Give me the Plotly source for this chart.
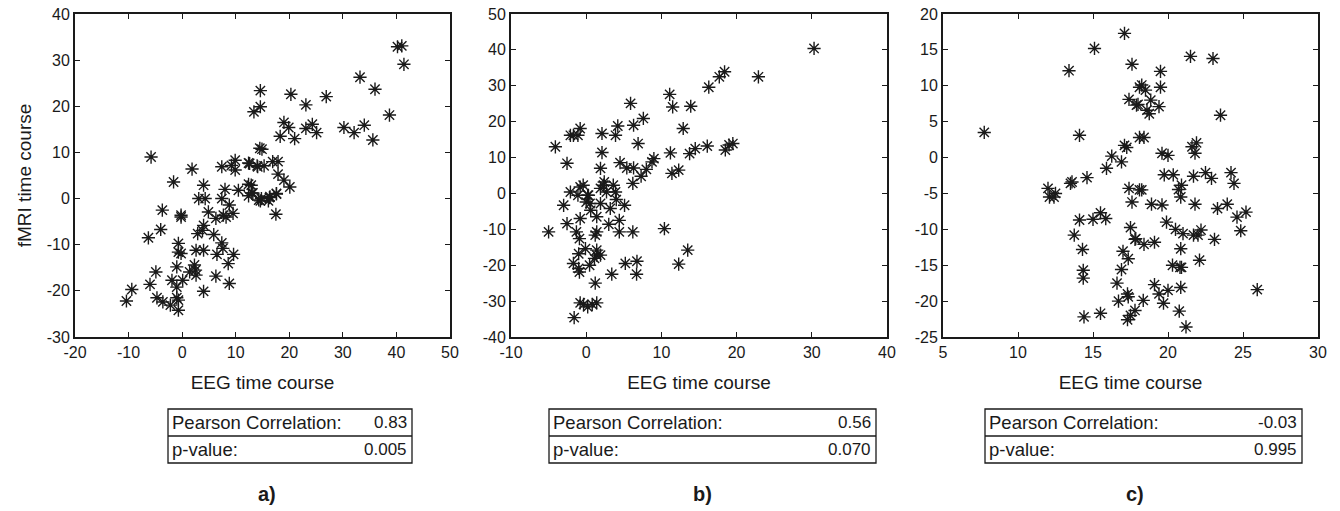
import plotly.graph_objects as go

W, H = 1340, 511

# ---------------- data ----------------
a_x = [-5.8, -1.6, 1.85, 4.0, 7.4, 9.2, 9.9, 9.9, 12.4, 14.1, 8.0, 10.5, 12.4, 13.0, 12.4,
       3.1, 4.3, 7.4, 13.4, 14.6, 14.6, 14.5, 20.3, 23.1, 26.9, 33.2, 36.0, 40.2, 41.0, 41.4,
       38.7, 19.0, 19.9, 18.3, 21.0, 23.1, 24.3, 25.1, 30.2, 32.1, 34.0, 35.6, 14.9, 12.6, 14.0,
       15.3, 16.9, 17.9, 17.9, 19.0, 20.1, 12.9, 13.2, 14.8, 16.3, 17.6, 14.3, -3.7, -0.2, -0.2,
       -4.0, -6.3, 4.9, 7.7, 8.2, 9.5, 8.8, 6.3, 4.0, 3.8, 2.9, 5.9, 7.4, 7.6, 6.5, 9.6, 8.6,
       6.3, 8.8, 4.0, -0.7, -0.7, -0.2, 2.6, 4.0, 2.3, 2.5, 2.6, 1.4, -1.0, -1.9, 0.1, -1.0,
       -4.9, -6.0, -9.4, -10.4, -4.7, -3.6, -2.2, -1.0, -0.7, -0.7, 14.6, 16.1, 16.4, 17.6, 17.5]
a_y = [9.0, 3.6, 6.4, 2.9, 6.9, 7.2, 8.3, 6.2, 7.7, 6.9, 2.0, 1.8, 3.1, 1.2, 0.6,
       0.0, 0.0, 0.0, 18.8, 19.9, 23.4, 10.9, 22.6, 20.3, 22.1, 26.3, 23.7, 32.9, 33.1, 29.1,
       18.1, 16.5, 15.4, 13.5, 13.0, 15.2, 16.1, 14.3, 15.4, 14.3, 15.9, 12.7, 10.7, 7.6, 7.1,
       7.1, 8.0, 8.0, 5.3, 4.0, 2.5, 2.9, 1.2, 0.0, 0.2, 1.1, -0.3, -2.5, -4.0, -3.6,
       -6.7, -8.5, -2.9, -3.6, -4.0, -3.2, -1.4, -4.3, -5.8, -6.9, -7.6, -7.8, -9.6, -10.8, -12.1, -12.1, -14.1,
       -16.8, -18.4, -20.1, -9.7, -11.6, -11.9, -11.2, -11.2, -14.4, -15.5, -16.6, -15.9, -14.8, -17.7, -17.7, -19.2,
       -15.9, -18.6, -19.7, -22.2, -21.5, -22.4, -23.1, -21.5, -22.0, -24.2, -0.5, -0.5, 0.4, 1.0, -3.4]

b_x = [-4.1, -2.55, -2.1, -1.7, -1.1, -0.8, 2.1, 2.1, 1.9, 4.2, 3.9, 5.9, 6.3, 7.6, 6.9,
       4.5, 5.4, 6.3, 7.3, 8.0, 8.75, 9.0, 6.2, 11.1, 11.5, 13.9, 12.9, 11.2, 13.75, 14.5,
       11.4, 12.3, -2.1, -0.8, -0.4, 0.3, 1.9, 2.4, 3.6, 3.9, 30.3, 22.9, 17.7, 18.4, 16.3,
       16.1, 18.5, 19.0, 19.5, -1.1, 0.2, 0.0, 0.5, 0.6, 1.9, 2.3, 2.7, 4.0, 3.2, 5.1,
       -3.0, 1.4, -0.8, -2.55, -5.0, -1.3, -0.9, 1.4, 1.2, 3.0, 4.4, 4.4, 6.2, 10.4, -0.1,
       -1.0, 1.4, 1.4, 1.1, 1.9, -1.7, -1.0, -0.9, 0.45, 5.2, 6.75, 3.4, 6.7, 12.3, 13.5,
       1.2, -0.8, -0.35, 0.2, 0.8, 1.4, -1.6]
b_y = [13.0, 8.4, 16.2, 16.2, 16.2, 18.1, 16.7, 11.4, 7.0, 18.8, 16.2, 25.1, 19.0, 20.9, 13.9,
       8.6, 7.1, 7.1, 4.8, 6.7, 8.8, 9.7, 2.8, 27.6, 24.1, 24.3, 18.1, 11.3, 11.1, 12.5,
       5.6, 6.5, 0.4, 1.8, 2.3, -0.5, 1.4, 3.2, 2.3, 0.4, 40.4, 32.5, 32.5, 33.9, 29.6,
       13.2, 12.1, 13.5, 13.9, -0.5, -0.5, -2.4, -2.8, -4.7, -2.8, 2.3, 0.4, -1.7, -4.2, -3.3,
       -3.3, -6.5, -7.0, -8.4, -10.7, -10.7, -12.6, -10.7, -11.6, -8.6, -7.5, -10.7, -10.7, -9.8, -15.4,
       -16.8, -15.8, -17.2, -18.1, -17.2, -19.5, -20.9, -21.9, -20.0, -19.5, -18.9, -22.5, -22.5, -19.7, -15.8,
       -25.0, -30.5, -30.9, -31.6, -30.9, -30.5, -34.6]

c_x = [7.75, 13.4, 15.1, 17.1, 17.6, 18.1, 17.4, 17.9, 14.1, 17.1, 17.25, 18.1, 16.25, 16.9, 15.9,
       14.6, 13.5, 13.6, 12.0, 12.1, 12.5, 12.4, 17.4, 18.1, 21.5, 23.0, 19.5, 19.5, 18.25, 18.5,
       18.85, 18.0, 18.6, 18.75, 19.4, 23.5, 18.4, 19.6, 20.0, 21.9, 21.6, 21.8, 19.75, 20.35, 21.7,
       22.5, 22.9, 24.2, 24.4, 20.9, 20.7, 20.85, 18.25, 17.6, 14.1, 15.0, 15.5, 15.85, 13.75,
       14.3, 14.35, 14.35, 14.4, 15.5, 17.5, 17.85, 17.0, 17.35, 16.9, 16.6, 17.3, 17.35, 16.7,
       17.8, 17.3, 18.9, 19.6, 21.8, 23.3, 23.95, 24.6, 25.2, 24.85, 19.9, 20.5, 21.0, 21.7,
       22.0, 22.2, 23.1, 17.8, 18.4, 19.1, 20.85, 20.3, 20.8, 20.9, 22.1, 19.1, 19.4, 20.0,
       20.85, 19.7, 18.35, 17.5, 20.75, 21.2, 25.95]
c_y = [3.5, 12.1, 15.2, 17.3, 13.0, 9.8, 8.1, 7.3, 3.1, 1.7, 1.4, 2.8, 0.2, -0.6, -1.5,
       -2.8, -3.6, -3.4, -4.3, -5.5, -5.0, -5.5, -4.3, -4.5, 14.1, 13.8, 12.0, 9.8, 10.1, 9.4,
       8.0, 7.4, 6.6, 6.1, 7.1, 5.9, 2.8, 0.6, 0.3, 2.05, 1.5, 0.6, -2.4, -2.4, -2.6,
       -2.1, -2.9, -2.1, -3.6, -3.85, -4.45, -5.5, -4.5, -6.2, -8.7, -8.6, -7.7, -8.5, -10.8,
       -12.8, -15.7, -16.8, -22.2, -21.7, -9.75, -11.3, -13.05, -14.1, -15.6, -17.5, -19.0, -19.4, -20.0,
       -21.3, -22.6, -6.5, -6.6, -6.5, -7.1, -6.5, -8.3, -7.6, -10.2, -9.0, -10.0, -10.6, -10.8,
       -10.8, -10.1, -11.4, -11.4, -12.1, -11.8, -12.7, -15.0, -15.3, -15.3, -14.3, -17.7, -19.0, -18.5,
       -18.1, -20.3, -19.9, -22.0, -21.4, -23.6, -18.4]

panel_labels = ["a)", "b)", "c)"]
pearson_vals = ["0.83", "0.56", "-0.03"]
p_vals = ["0.005", "0.070", "0.995"]
x_ranges = [[-20, 50], [-10, 40], [5, 30]]
y_ranges = [[-30, 40], [-40, 50], [-25, 20]]
x_dtick = [10, 10, 5]
y_dtick = [10, 10, 5]

# ---------------- layout geometry (pixels) ----------------
x_dom_px = [(75, 450), (511, 887), (943, 1318)]
y_dom_px = (14, 337)
table_px = [(168, 412), (549, 876), (985, 1302)]
table_rows_px = (409, 436, 463)
label_y_px = 494

def px_x(p):
    return p / W

def px_y(p):
    return 1 - p / H

def tick_list(rng, step):
    vals = []
    v = rng[0]
    while v <= rng[1] + 1e-9:
        vals.append(v)
        v += step
    return vals

fig = go.Figure()
data = [(a_x, a_y), (b_x, b_y), (c_x, c_y)]
font_family = "Liberation Sans, Arial, sans-serif"
ink = "#1a1a1a"

shapes = []
annotations = []
for i, (xs, ys) in enumerate(data):
    xa = "x" if i == 0 else f"x{i+1}"
    ya = "y" if i == 0 else f"y{i+1}"
    fig.add_trace(go.Scatter(
        x=xs, y=ys, mode="markers", xaxis=xa, yaxis=ya,
        marker=dict(symbol="asterisk-open", size=11, color=ink,
                    line=dict(color=ink, width=1.4)),
        showlegend=False, hoverinfo="x+y"))
    axis_common = dict(showline=True, linecolor=ink, linewidth=1.8, mirror="ticks",
                       ticks="inside", ticklen=5, tickwidth=1.2, tickcolor=ink,
                       showgrid=False, zeroline=False, automargin=False,
                       tickfont=dict(family=font_family, size=16, color=ink))
    xt = tick_list(x_ranges[i], x_dtick[i])
    yt = tick_list(y_ranges[i], y_dtick[i])
    xkey = "xaxis" if i == 0 else f"xaxis{i+1}"
    ykey = "yaxis" if i == 0 else f"yaxis{i+1}"
    fig.update_layout(**{
        xkey: dict(domain=[px_x(x_dom_px[i][0]), px_x(x_dom_px[i][1])],
                   range=x_ranges[i], tickvals=xt, ticktext=[f"{v:g}" for v in xt], anchor=ya,
                   title=dict(text="EEG time course", standoff=16,
                              font=dict(family=font_family, size=19, color=ink)),
                   **axis_common),
        ykey: dict(domain=[px_y(y_dom_px[1]), px_y(y_dom_px[0])],
                   range=y_ranges[i], tickvals=yt, ticktext=[f"{v:g}" for v in yt], anchor=xa,
                   **axis_common),
    })
    # table box
    l, r = table_px[i]
    t, m, b = table_rows_px
    shapes.append(dict(type="rect", xref="paper", yref="paper",
                       x0=px_x(l), x1=px_x(r), y0=px_y(b), y1=px_y(t),
                       line=dict(color=ink, width=1.3)))
    shapes.append(dict(type="line", xref="paper", yref="paper",
                       x0=px_x(l), x1=px_x(r), y0=px_y(m), y1=px_y(m),
                       line=dict(color=ink, width=1.3)))
    for row_top, row_bot, lab, val in [(t, m, "Pearson Correlation:", pearson_vals[i]),
                                       (m, b, "p-value:", p_vals[i])]:
        yc = px_y((row_top + row_bot) / 2)
        annotations.append(dict(xref="paper", yref="paper", x=px_x(l + 2), y=yc,
                                text=lab, showarrow=False, xanchor="left", yanchor="middle",
                                font=dict(family=font_family, size=18.5, color=ink)))
        annotations.append(dict(xref="paper", yref="paper", x=px_x(r - 3), y=yc,
                                text=val, showarrow=False, xanchor="right", yanchor="middle",
                                font=dict(family=font_family, size=17, color=ink)))
    annotations.append(dict(xref="paper", yref="paper",
                            x=px_x((x_dom_px[i][0] + x_dom_px[i][1]) / 2 + 4),
                            y=px_y(label_y_px), text=f"<b>{panel_labels[i]}</b>",
                            showarrow=False, xanchor="center", yanchor="middle",
                            font=dict(family=font_family, size=20, color=ink)))

fig.update_layout(yaxis=dict(title=dict(text="fMRI time course", standoff=10,
                                        font=dict(family=font_family, size=19, color=ink))))

fig.update_layout(width=W, height=H, margin=dict(l=0, r=0, t=0, b=0),
                  paper_bgcolor="white", plot_bgcolor="white",
                  shapes=shapes, annotations=annotations)

fig.write_html("out.html", config={"displayModeBar": False},
               post_script="document.body.style.margin='0';document.body.style.overflow='hidden';")
